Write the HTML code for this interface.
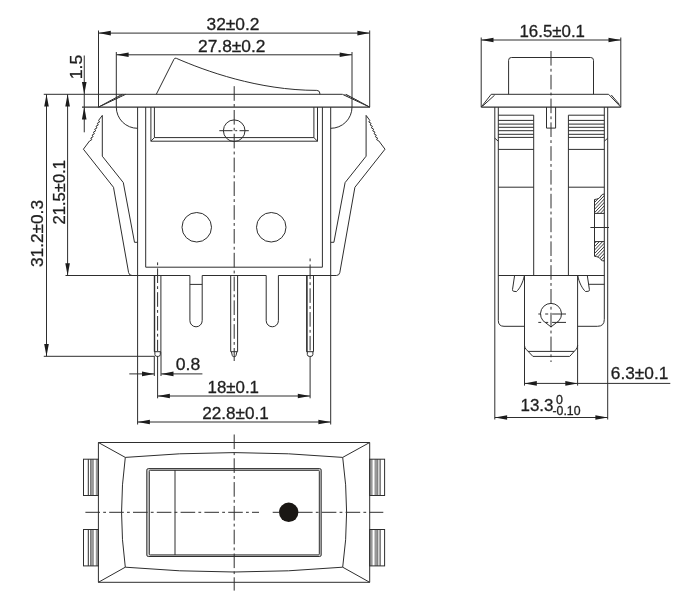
<!DOCTYPE html>
<html><head><meta charset="utf-8"><title>Rocker switch drawing</title>
<style>
html,body{margin:0;padding:0;background:#fff}
svg{display:block;will-change:transform;transform:translateZ(0)}
svg *{vector-effect:none}
.g line,.g path,.g circle,.g rect{fill:none;stroke:#2e2e2e;stroke-width:1}
.g .cl{stroke-dasharray:14.6 3.2 2.8 3.2}
.g .cl3{stroke-dasharray:14.6 3.2 2.8 3.2;stroke-dashoffset:17.8}
.g .tk{stroke-width:1.45}
.g .pk{stroke-width:1.2}
.g .a{fill:#1c1c1c;stroke:none}
.g .h{stroke-width:0.95}
.g .dot{fill:#1a1714;stroke:none}
.g .rib{fill:#989898;stroke:none}
.g .bh{stroke-width:1.4;stroke-dasharray:1 1.4}
.g .rl{stroke:#5a5a5a;stroke-width:0.7}
.g .band{fill:#d4d4d4}
.g .wh{fill:#fff}
.g text{font-family:"Liberation Sans",Arial,sans-serif;fill:#1f1f1f;stroke:#1f1f1f;stroke-width:0.3}
</style></head><body>
<svg width="692" height="606" viewBox="0 0 692 606">
<defs><clipPath id="h1"><path d="M604.3,194.0 C601.5,194.2 601.3,195.6 600.3,197 C599.2,198.6 597.5,199.1 594.5,199.5 L594.5,213.4 L604.3,213.4 Z M594.5,241.6 L604.3,241.6 L604.3,261 C601.5,260.8 601.3,260.2 600.3,258.8 C599.2,257.2 597.5,256.7 594.5,256.3 Z"/></clipPath></defs>
<rect width="692" height="606" fill="#fff"/>
<g class="g">
<line x1="98.5" y1="30.5" x2="98.5" y2="107.1"/>
<line x1="369.7" y1="30.5" x2="369.7" y2="107.1"/>
<line x1="98.5" y1="33.1" x2="369.7" y2="33.1"/>
<polygon class="a" points="98.50,33.10 110.80,30.80 110.80,35.40"/>
<polygon class="a" points="369.70,33.10 357.40,30.80 357.40,35.40"/>
<text x="206.5" y="29.5" font-size="17" textLength="53" lengthAdjust="spacingAndGlyphs" text-anchor="start">32±0.2</text>
<line x1="116.3" y1="52" x2="116.3" y2="107.1"/>
<line x1="352" y1="52" x2="352" y2="107.1"/>
<line x1="116.3" y1="54.8" x2="352" y2="54.8"/>
<polygon class="a" points="116.30,54.80 128.60,52.50 128.60,57.10"/>
<polygon class="a" points="352.00,54.80 339.70,52.50 339.70,57.10"/>
<text x="198" y="51.6" font-size="17" textLength="67.5" lengthAdjust="spacingAndGlyphs" text-anchor="start">27.8±0.2</text>
<path d="M116.3,107.1 A21.2,21.2 0 0 0 137.6,128.3"/>
<path d="M352,107.1 A21.2,21.2 0 0 1 330.7,128.3"/>
<line x1="84.25" y1="55.5" x2="84.25" y2="107.1"/>
<polygon class="a" points="84.25,94.30 81.95,82.00 86.55,82.00"/>
<line x1="84.25" y1="107.1" x2="84.25" y2="132.3"/>
<polygon class="a" points="84.25,107.10 81.95,119.40 86.55,119.40"/>
<text x="81.6" y="79.3" font-size="17" textLength="24.6" lengthAdjust="spacingAndGlyphs" transform="rotate(-90 81.6 79.3)" text-anchor="start">1.5</text>
<line x1="43.75" y1="94.3" x2="342.3" y2="94.3"/>
<line x1="82" y1="107.1" x2="369.7" y2="107.1" class="tk"/>
<line x1="98.5" y1="107.1" x2="125.7" y2="94.3"/>
<line x1="98.5" y1="107.1" x2="122.2" y2="94.3"/>
<line x1="110" y1="101.2" x2="123.6" y2="94.6" class="bh"/>
<line x1="342.4" y1="94.3" x2="369.7" y2="107.1"/>
<line x1="345.9" y1="94.3" x2="369.7" y2="107.1"/>
<line x1="344.5" y1="94.6" x2="358.2" y2="101.2" class="bh"/>
<path d="M156.3,94.3 L174,59.2 Q174.7,57.6 176.3,58.3 C205,70.8 258,90.3 316.8,90.4 Q319.5,90.4 319.8,93 L319.8,94.3"/>
<line x1="137.6" y1="107.1" x2="137.6" y2="424.5"/>
<line x1="330.7" y1="107.1" x2="330.7" y2="424.5"/>
<path d="M145.7,107.1 L145.7,267.2 L322.4,267.2 L322.4,107.1"/>
<path d="M150.9,107.1 L150.9,141.2 L317.5,141.2 L317.5,107.1"/>
<path d="M154.4,107.1 L154.4,137.6 L313.9,137.6 L313.9,107.1"/>
<line x1="150.9" y1="141.2" x2="154.4" y2="137.6"/>
<line x1="317.5" y1="141.2" x2="313.9" y2="137.6"/>
<circle cx="234.2" cy="130.7" r="10.8"/>
<line x1="219.3" y1="130.7" x2="232.5" y2="130.7"/>
<line x1="235.2" y1="130.7" x2="237.2" y2="130.7"/>
<line x1="239.5" y1="130.7" x2="248.8" y2="130.7"/>
<circle cx="196.75" cy="227.25" r="14.75"/>
<circle cx="271.25" cy="227.25" r="14.75"/>
<path d="M234.2,86.2 L234.2,361" class="cl"/>
<path d="M102.3,156.2 L102.3,115.4 L98.6,120.4 L99.6,122.0 L97.3,123.34 L98.3,124.94 L96.0,126.29 L97.0,127.89 L94.7,129.23 L95.7,130.83 L93.4,132.17 L94.4,133.77 L92.1,135.12 L93.1,136.72 L90.8,138.06 L91.8,139.66 L89.5,141.0 L83.4,149.2 L113.5,187.3 L128.6,272.6 Q129.2,275.5 132,275.5"/>
<path d="M102.3,156.2 L123.3,182.6 L134.5,242.3 L137.6,242.3"/>
<path d="M366.1,156.2 L366.1,115.4 L369.8,120.4 L368.8,122.0 L371.1,123.34 L370.1,124.94 L372.4,126.29 L371.4,127.89 L373.7,129.23 L372.7,130.83 L375.0,132.17 L374.0,133.77 L376.3,135.12 L375.3,136.72 L377.6,138.06 L376.6,139.66 L378.9,141.0 L385.0,149.2 L354.9,187.3 L339.8,272.6 Q339.2,275.5 336.4,275.5"/>
<path d="M366.1,156.2 L345.1,182.6 L333.9,242.3 L330.8,242.3"/>
<line x1="65.5" y1="275.5" x2="189.9" y2="275.5"/>
<line x1="202.2" y1="275.5" x2="266.2" y2="275.5"/>
<line x1="278.4" y1="275.5" x2="336.4" y2="275.5"/>
<path d="M154.3,275.5 L154.3,351.7 L160.9,351.7 L160.9,275.5"/>
<path d="M154.9,351.7 L154.9,354.5 Q155.10000000000002,356.4 156.9,356.4 L158.3,356.4 Q160.1,356.4 160.3,354.5 L160.3,351.7"/>
<path d="M230.7,275.5 L230.7,351.7 L237.6,351.7 L237.6,275.5"/>
<path d="M231.39999999999998,351.7 L232.29999999999998,355.5 Q232.5,356.6 233.5,356.6 L234.79999999999998,356.6 Q235.79999999999998,356.6 236.0,355.5 L236.9,351.7"/>
<path d="M306.7,275.5 L306.7,351.7 L313.5,351.7 L313.5,275.5"/>
<path d="M307.3,351.7 L307.3,354.5 Q307.5,356.4 309.3,356.4 L310.9,356.4 Q312.7,356.4 312.9,354.5 L312.9,351.7"/>
<line x1="154.6" y1="275.5" x2="154.6" y2="351.7" class="pk"/>
<line x1="307" y1="275.5" x2="307" y2="351.7" class="pk"/>
<path d="M157.6,262.4 L157.6,351" class="cl3"/>
<path d="M310.1,258.5 L310.1,351" class="cl3"/>
<path d="M189.9,275.5 L189.9,320.65 A6.15,6.15 0 0 0 202.2,320.65 L202.2,275.5"/>
<path d="M266.2,275.5 L266.2,320.70 A6.10,6.10 0 0 0 278.4,320.70 L278.4,275.5"/>
<line x1="189.9" y1="284.4" x2="202.2" y2="284.4"/>
<line x1="67.6" y1="94.3" x2="67.6" y2="275.5"/>
<polygon class="a" points="67.60,94.30 65.30,106.60 69.90,106.60"/>
<polygon class="a" points="67.60,275.50 65.30,263.20 69.90,263.20"/>
<text x="64.7" y="224.5" font-size="17" textLength="64.5" lengthAdjust="spacingAndGlyphs" transform="rotate(-90 64.7 224.5)" text-anchor="start">21.5±0.1</text>
<line x1="46.5" y1="94.3" x2="46.5" y2="356.3"/>
<polygon class="a" points="46.50,94.30 44.20,106.60 48.80,106.60"/>
<polygon class="a" points="46.50,356.30 44.20,344.00 48.80,344.00"/>
<line x1="43.75" y1="356.3" x2="154.8" y2="356.3"/>
<text x="42.9" y="267" font-size="17" textLength="67" lengthAdjust="spacingAndGlyphs" transform="rotate(-90 42.9 267)" text-anchor="start">31.2±0.3</text>
<line x1="154.3" y1="356.4" x2="154.3" y2="376"/>
<line x1="161" y1="351.7" x2="161" y2="376"/>
<line x1="129.3" y1="373.9" x2="154.3" y2="373.9"/>
<polygon class="a" points="154.30,373.90 142.00,371.60 142.00,376.20"/>
<line x1="161.2" y1="373.9" x2="202.4" y2="373.9"/>
<polygon class="a" points="161.20,373.90 173.50,371.60 173.50,376.20"/>
<text x="175.8" y="369.5" font-size="17" textLength="24.5" lengthAdjust="spacingAndGlyphs" text-anchor="start">0.8</text>
<line x1="157.6" y1="356.4" x2="157.6" y2="398.3"/>
<line x1="310.1" y1="356.4" x2="310.1" y2="398.3"/>
<line x1="157.6" y1="396" x2="310.1" y2="396"/>
<polygon class="a" points="157.60,396.00 169.90,393.70 169.90,398.30"/>
<polygon class="a" points="310.10,396.00 297.80,393.70 297.80,398.30"/>
<text x="207.5" y="392.5" font-size="17" textLength="51.5" lengthAdjust="spacingAndGlyphs" text-anchor="start">18±0.1</text>
<line x1="137.6" y1="422" x2="330.7" y2="422"/>
<polygon class="a" points="137.60,422.00 149.90,419.70 149.90,424.30"/>
<polygon class="a" points="330.70,422.00 318.40,419.70 318.40,424.30"/>
<text x="202.3" y="419" font-size="17" textLength="66.5" lengthAdjust="spacingAndGlyphs" text-anchor="start">22.8±0.1</text>
<line x1="481.2" y1="37.5" x2="481.2" y2="107.1"/>
<line x1="620.8" y1="37.5" x2="620.8" y2="107.1"/>
<line x1="481.2" y1="40" x2="620.8" y2="40"/>
<polygon class="a" points="481.20,40.00 493.50,37.70 493.50,42.30"/>
<polygon class="a" points="620.80,40.00 608.50,37.70 608.50,42.30"/>
<text x="519.5" y="36.75" font-size="17" textLength="65.5" lengthAdjust="spacingAndGlyphs" text-anchor="start">16.5±0.1</text>
<path d="M508.6,94.3 L508.6,60.3 Q508.6,57.5 511.4,57.5 L590.7,57.5 Q593.5,57.5 593.5,60.3 L593.5,94.3"/>
<line x1="491.2" y1="94.3" x2="608.6" y2="94.3"/>
<line x1="481.2" y1="107.1" x2="620.8" y2="107.1" class="tk"/>
<line x1="481.2" y1="107.1" x2="491.2" y2="94.3"/>
<line x1="482.5" y1="106.2" x2="494.6" y2="95.2"/>
<line x1="608.6" y1="94.3" x2="620.8" y2="107.1"/>
<line x1="611.3" y1="95.0" x2="619.5" y2="104.5"/>
<line x1="494.8" y1="107.1" x2="494.8" y2="419.5"/>
<line x1="607.7" y1="107.1" x2="607.7" y2="419.5"/>
<path d="M498.3,107.1 L498.3,320.5 Q498.3,326.3 504,326.3 L524.4,326.3"/>
<path d="M604.3,107.1 L604.3,319.5 Q604.3,326.3 597.5,326.3 L577.7,326.3"/>
<line x1="494.8" y1="138.2" x2="498.3" y2="141.2"/>
<line x1="607.7" y1="138.2" x2="604.3" y2="141.2"/>
<line x1="498.3" y1="115.2" x2="533.7" y2="115.2"/>
<line x1="498.3" y1="120.4" x2="533.7" y2="120.4"/>
<line x1="498.3" y1="124.1" x2="533.7" y2="124.1"/>
<line x1="498.3" y1="127.3" x2="533.7" y2="127.3"/>
<line x1="498.3" y1="130.7" x2="533.7" y2="130.7"/>
<line x1="498.3" y1="134.3" x2="533.7" y2="134.3"/>
<line x1="498.3" y1="137.4" x2="533.7" y2="137.4"/>
<line x1="498.3" y1="149.4" x2="533.7" y2="149.4"/>
<line x1="498.3" y1="187.2" x2="533.7" y2="187.2"/>
<line x1="568.4" y1="115.2" x2="604.3" y2="115.2"/>
<line x1="568.4" y1="120.4" x2="604.3" y2="120.4"/>
<line x1="568.4" y1="124.1" x2="604.3" y2="124.1"/>
<line x1="568.4" y1="127.3" x2="604.3" y2="127.3"/>
<line x1="568.4" y1="130.7" x2="604.3" y2="130.7"/>
<line x1="568.4" y1="134.3" x2="604.3" y2="134.3"/>
<line x1="568.4" y1="137.4" x2="604.3" y2="137.4"/>
<line x1="568.4" y1="149.4" x2="604.3" y2="149.4"/>
<line x1="568.4" y1="187.2" x2="604.3" y2="187.2"/>
<line x1="533.7" y1="115.2" x2="533.7" y2="275.5"/>
<line x1="568.4" y1="115.2" x2="568.4" y2="275.5"/>
<path d="M546.5,107.1 L546.5,128.1 L555.6,128.1 L555.6,107.1"/>
<line x1="498.3" y1="275.5" x2="604.3" y2="275.5"/>
<path d="M551.0,51 L551.0,362" class="cl"/>
<path d="M604.3,194.0 C601.5,194.2 601.3,195.6 600.3,197 C599.2,198.6 597.5,199.1 594.5,199.5 L594.5,256.3 C597.5,256.7 599.2,257.2 600.3,258.8 C601.3,260.2 601.5,260.8 604.3,261"/>
<line x1="594.5" y1="213.4" x2="604.3" y2="213.4"/>
<line x1="594.5" y1="241.6" x2="604.3" y2="241.6"/>
<line x1="590.4" y1="227.5" x2="609" y2="227.5"/>
<g clip-path="url(#h1)">
<line x1="590" y1="129.0" x2="610" y2="108.0" class="h"/>
<line x1="590" y1="132.4" x2="610" y2="111.4" class="h"/>
<line x1="590" y1="135.8" x2="610" y2="114.8" class="h"/>
<line x1="590" y1="139.2" x2="610" y2="118.2" class="h"/>
<line x1="590" y1="142.60000000000002" x2="610" y2="121.60000000000001" class="h"/>
<line x1="590" y1="146.0" x2="610" y2="125.0" class="h"/>
<line x1="590" y1="149.4" x2="610" y2="128.4" class="h"/>
<line x1="590" y1="152.8" x2="610" y2="131.8" class="h"/>
<line x1="590" y1="156.2" x2="610" y2="135.2" class="h"/>
<line x1="590" y1="159.60000000000002" x2="610" y2="138.60000000000002" class="h"/>
<line x1="590" y1="163.0" x2="610" y2="142.0" class="h"/>
<line x1="590" y1="166.4" x2="610" y2="145.4" class="h"/>
<line x1="590" y1="169.8" x2="610" y2="148.8" class="h"/>
<line x1="590" y1="173.2" x2="610" y2="152.2" class="h"/>
<line x1="590" y1="176.6" x2="610" y2="155.6" class="h"/>
<line x1="590" y1="180.0" x2="610" y2="159.0" class="h"/>
<line x1="590" y1="183.4" x2="610" y2="162.4" class="h"/>
<line x1="590" y1="186.8" x2="610" y2="165.8" class="h"/>
<line x1="590" y1="190.2" x2="610" y2="169.2" class="h"/>
<line x1="590" y1="193.6" x2="610" y2="172.6" class="h"/>
<line x1="590" y1="197.0" x2="610" y2="176.0" class="h"/>
<line x1="590" y1="200.4" x2="610" y2="179.4" class="h"/>
<line x1="590" y1="203.8" x2="610" y2="182.8" class="h"/>
<line x1="590" y1="207.2" x2="610" y2="186.2" class="h"/>
<line x1="590" y1="210.6" x2="610" y2="189.6" class="h"/>
<line x1="590" y1="214.0" x2="610" y2="193.0" class="h"/>
<line x1="590" y1="217.4" x2="610" y2="196.4" class="h"/>
<line x1="590" y1="220.8" x2="610" y2="199.8" class="h"/>
<line x1="590" y1="224.2" x2="610" y2="203.2" class="h"/>
<line x1="590" y1="227.6" x2="610" y2="206.6" class="h"/>
<line x1="590" y1="231.0" x2="610" y2="210.0" class="h"/>
<line x1="590" y1="234.4" x2="610" y2="213.4" class="h"/>
<line x1="590" y1="237.8" x2="610" y2="216.8" class="h"/>
<line x1="590" y1="241.2" x2="610" y2="220.2" class="h"/>
<line x1="590" y1="244.6" x2="610" y2="223.6" class="h"/>
<line x1="590" y1="248.0" x2="610" y2="227.0" class="h"/>
<line x1="590" y1="251.4" x2="610" y2="230.4" class="h"/>
<line x1="590" y1="254.8" x2="610" y2="233.8" class="h"/>
<line x1="590" y1="258.2" x2="610" y2="237.2" class="h"/>
<line x1="590" y1="261.6" x2="610" y2="240.6" class="h"/>
<line x1="590" y1="265.0" x2="610" y2="244.0" class="h"/>
<line x1="590" y1="268.4" x2="610" y2="247.4" class="h"/>
<line x1="590" y1="271.8" x2="610" y2="250.8" class="h"/>
<line x1="590" y1="275.2" x2="610" y2="254.2" class="h"/>
<line x1="590" y1="278.6" x2="610" y2="257.6" class="h"/>
<line x1="590" y1="282.0" x2="610" y2="261.0" class="h"/>
<line x1="590" y1="285.4" x2="610" y2="264.4" class="h"/>
<line x1="590" y1="288.8" x2="610" y2="267.8" class="h"/>
<line x1="590" y1="292.2" x2="610" y2="271.2" class="h"/>
<line x1="590" y1="295.6" x2="610" y2="274.6" class="h"/>
<line x1="590" y1="299.0" x2="610" y2="278.0" class="h"/>
<line x1="590" y1="302.4" x2="610" y2="281.4" class="h"/>
<line x1="590" y1="305.8" x2="610" y2="284.8" class="h"/>
<line x1="590" y1="309.2" x2="610" y2="288.2" class="h"/>
<line x1="590" y1="312.6" x2="610" y2="291.6" class="h"/>
<line x1="590" y1="316.0" x2="610" y2="295.0" class="h"/>
<line x1="590" y1="319.4" x2="610" y2="298.4" class="h"/>
<line x1="590" y1="322.8" x2="610" y2="301.8" class="h"/>
<line x1="590" y1="326.2" x2="610" y2="305.2" class="h"/>
<line x1="590" y1="329.6" x2="610" y2="308.6" class="h"/>
<line x1="590" y1="333.0" x2="610" y2="312.0" class="h"/>
<line x1="590" y1="336.4" x2="610" y2="315.4" class="h"/>
<line x1="590" y1="339.8" x2="610" y2="318.8" class="h"/>
<line x1="590" y1="343.2" x2="610" y2="322.2" class="h"/>
<line x1="590" y1="346.6" x2="610" y2="325.6" class="h"/>
<line x1="590" y1="350.0" x2="610" y2="329.0" class="h"/>
<line x1="590" y1="353.4" x2="610" y2="332.4" class="h"/>
<line x1="590" y1="356.8" x2="610" y2="335.8" class="h"/>
<line x1="590" y1="360.2" x2="610" y2="339.2" class="h"/>
<line x1="590" y1="363.6" x2="610" y2="342.6" class="h"/>
</g>
<path d="M524.5,275.5 L524.5,345.5 Q524.6,347.6 526,349.2 L532.9,356.4 L569.7,356.4 L576.2,349.2 Q577.5,347.6 577.6,345.5 L577.6,275.5"/>
<line x1="528" y1="351.4" x2="574.1" y2="351.4"/>
<path d="M542.96,320.65 A10.5,10.5 0 1 1 559.04,320.65 L551.0,326.9 Z"/>
<line x1="538.3" y1="314" x2="541" y2="314"/>
<line x1="545.2" y1="314" x2="548.2" y2="314"/>
<line x1="552.1" y1="314" x2="566" y2="314"/>
<line x1="538.3" y1="322.4" x2="541.2" y2="322.4"/>
<line x1="545.2" y1="322.4" x2="548.2" y2="322.4"/>
<line x1="552.1" y1="322.4" x2="566" y2="322.4"/>
<path d="M514.6,275.5 L512.5,289.6 Q512.3,291.1 513.8,291.3 L516.4,291.6 C519.5,289 523,282.5 524.4,275.5"/>
<path d="M577.7,275.5 C579,282.5 582.5,289 585.5,291.5 L588.2,291.3 Q589.7,291.1 589.4,289.6 L587.3,275.5"/>
<line x1="588.6" y1="284.3" x2="604.3" y2="284.3"/>
<line x1="524.5" y1="345" x2="524.5" y2="385.6"/>
<line x1="577.6" y1="345" x2="577.6" y2="385.6"/>
<line x1="524.5" y1="383.4" x2="670.3" y2="383.4"/>
<polygon class="a" points="524.50,383.40 536.80,381.10 536.80,385.70"/>
<polygon class="a" points="577.60,383.40 565.30,381.10 565.30,385.70"/>
<text x="610.8" y="379" font-size="17" textLength="57.5" lengthAdjust="spacingAndGlyphs" text-anchor="start">6.3±0.1</text>
<line x1="494.8" y1="417.5" x2="607.7" y2="417.5"/>
<polygon class="a" points="494.80,417.50 507.10,415.20 507.10,419.80"/>
<polygon class="a" points="607.70,417.50 595.40,415.20 595.40,419.80"/>
<text x="520.5" y="410.9" font-size="17" textLength="33" lengthAdjust="spacingAndGlyphs" text-anchor="start">13.3</text>
<text x="556.1" y="404.3" font-size="12.5" textLength="6.9" lengthAdjust="spacingAndGlyphs" text-anchor="start">0</text>
<text x="552.5" y="415.0" font-size="12.5" textLength="28" lengthAdjust="spacingAndGlyphs" text-anchor="start">-0.10</text>
<path d="M98.4,442.5 L369.7,442.5 L369.7,582.3 L98.4,582.3 Z"/>
<path d="M125.3,457.4 Q234.2,447.8 342.7,457.4 Q350.5,512.3 342.7,567.2 Q234.2,576.8 125.3,567.2 Q117.8,512.3 125.3,457.4 Z"/>
<line x1="98.4" y1="442.5" x2="125.3" y2="457.4"/>
<line x1="369.7" y1="442.5" x2="342.7" y2="457.4"/>
<line x1="369.7" y1="582.3" x2="342.7" y2="567.2"/>
<line x1="98.4" y1="582.3" x2="125.3" y2="567.2"/>
<rect class="band" x="146.8" y="468.6" width="174.4" height="87.9" rx="1.5"/>
<rect class="wh" x="149.3" y="470.3" width="170" height="84.6" rx="1"/>
<line x1="175" y1="470" x2="175" y2="555"/>
<circle cx="288.7" cy="512.3" r="9.7" class="dot"/>
<path d="M85.4,512.3 L259,512.3" class="cl"/>
<path d="M272.7,512.3 L280,512.3 M298,512.3 L383.3,512.3" class="cl"/>
<path d="M234.2,434.5 L234.2,590.6" class="cl"/>
<rect class="rib" x="95.8" y="459.2" width="2.60" height="36.3"/>
<rect class="rib" x="370.0" y="459.2" width="2.60" height="36.3"/>
<rect class="rib" x="90.5" y="459.2" width="3.40" height="36.3"/>
<rect class="rib" x="374.5" y="459.2" width="3.40" height="36.3"/>
<line x1="90.5" y1="459.2" x2="90.5" y2="495.5" class="rl"/>
<line x1="377.9" y1="459.2" x2="377.9" y2="495.5" class="rl"/>
<line x1="88.3" y1="459.2" x2="88.3" y2="495.5"/>
<line x1="380.1" y1="459.2" x2="380.1" y2="495.5"/>
<rect x="83.5" y="459.2" width="14.90" height="36.3"/>
<rect x="369.7" y="459.2" width="14.90" height="36.3"/>
<rect class="rib" x="95.8" y="529.5" width="2.60" height="36.4"/>
<rect class="rib" x="370.0" y="529.5" width="2.60" height="36.4"/>
<rect class="rib" x="90.5" y="529.5" width="3.40" height="36.4"/>
<rect class="rib" x="374.5" y="529.5" width="3.40" height="36.4"/>
<line x1="90.5" y1="529.5" x2="90.5" y2="565.9" class="rl"/>
<line x1="377.9" y1="529.5" x2="377.9" y2="565.9" class="rl"/>
<line x1="88.3" y1="529.5" x2="88.3" y2="565.9"/>
<line x1="380.1" y1="529.5" x2="380.1" y2="565.9"/>
<rect x="83.5" y="529.5" width="14.90" height="36.4"/>
<rect x="369.7" y="529.5" width="14.90" height="36.4"/>
</g>
</svg>
</body></html>
